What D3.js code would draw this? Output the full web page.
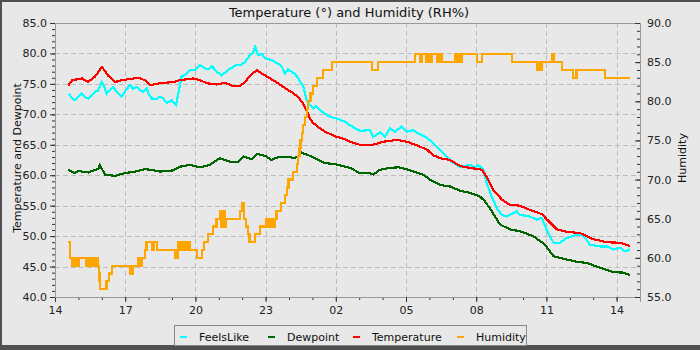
<!DOCTYPE html>
<html>
<head>
<meta charset="utf-8">
<script src="https://cdn.jsdelivr.net/npm/d3@7"></script>
<style>
  body { margin: 0; background: #e8e8e8; }
  text { font-family: "DejaVu Sans", sans-serif; }
</style>
</head>
<body>
<svg id="chart" width="700" height="350"></svg>
<script>
// Hour labels every 3 hours, starting at 14:00 and running 25 hours
const xTickLabels = ["14", "17", "20", "23", "02", "05", "08", "11", "14"];
const leftTicks = [40, 45, 50, 55, 60, 65, 70, 75, 80, 85];
const rightTicks = [55, 60, 65, 70, 75, 80, 85, 90];

const seriesNames = ["FeelsLike", "Dewpoint", "Temperature", "Humidity"];
const seriesColors = ["#00ffff", "#006400", "#ff0000", "#ffa500"];

// [hours after 14:00, degrees]
const feelsLike = [
  [0.60,73.4],[0.73,72.6],[0.85,72.3],[0.98,72.8],[1.14,73.4],[1.28,72.8],[1.41,72.6],[1.58,73.2],
  [1.71,73.7],[1.84,73.9],[2.00,75.3],[2.09,74.6],[2.21,73.4],[2.35,74.0],[2.48,74.5],[2.65,73.6],
  [2.85,72.9],[3.03,74.0],[3.21,74.8],[3.33,74.2],[3.49,74.5],[3.63,74.0],[3.76,73.7],[3.92,74.3],
  [4.02,73.2],[4.13,72.6],[4.35,72.5],[4.49,72.9],[4.62,72.6],[4.77,71.9],[4.99,72.3],[5.17,71.5],
  [5.27,73.4],[5.41,76.2],[5.60,76.6],[5.77,77.25],[5.98,77.3],[6.20,78.1],[6.37,77.6],[6.55,77.4],
  [6.71,77.9],[6.91,77.0],[7.12,76.4],[7.31,77.0],[7.48,77.5],[7.76,78.1],[7.95,78.1],[8.12,78.6],
  [8.33,79.7],[8.46,80.1],[8.55,81.1],[8.69,79.7],[8.85,79.9],[8.97,79.2],[9.26,78.9],[9.54,78.3],
  [9.70,77.8],[9.83,76.7],[9.96,77.4],[10.12,77.0],[10.26,76.6],[10.40,75.9],[10.61,74.5],[10.76,72.3],
  [10.90,71.5],[11.04,71.0],[11.15,71.4],[11.32,70.7],[11.68,69.7],[12.11,69.2],[12.39,68.8],[12.61,68.2],
  [12.82,67.7],[13.03,67.3],[13.46,67.4],[13.60,66.3],[13.80,66.8],[13.89,67.15],[14.10,66.3],[14.32,67.7],
  [14.53,67.15],[14.82,68.0],[15.03,67.15],[15.31,67.4],[15.60,66.7],[15.88,66.2],[16.17,65.25],[16.45,64.2],
  [16.74,63.1],[17.02,62.0],[17.31,61.4],[17.74,61.7],[17.95,61.3],[18.09,61.7],[18.30,60.9],[18.45,58.7],
  [18.66,56.5],[18.88,54.6],[19.09,53.5],[19.30,53.2],[19.59,53.8],[19.73,54.1],[19.87,53.5],[20.30,53.2],
  [20.59,52.7],[20.80,53.0],[21.01,51.1],[21.30,48.9],[21.58,48.9],[21.87,49.7],[22.29,50.2],[22.56,50.1],
  [22.65,49.7],[22.86,48.6],[23.29,48.3],[23.59,48.3],[23.86,47.8],[24.15,48.1],[24.36,47.5],[24.57,47.8]
];

const dewpoint = [
  [0.57,60.9],[0.73,60.5],[0.85,60.35],[0.98,60.7],[1.14,60.6],[1.42,60.45],[1.71,60.9],[1.84,61.0],
  [1.92,61.7],[2.01,61.0],[2.14,60.1],[2.56,59.9],[2.99,60.35],[3.42,60.6],[3.85,61.0],[4.06,60.9],
  [4.49,60.6],[5.06,60.8],[5.34,61.4],[5.77,61.7],[6.20,61.3],[6.62,61.7],[7.05,62.8],[7.48,62.2],
  [7.83,62.2],[8.05,63.1],[8.41,62.6],[8.62,63.5],[8.97,63.2],[9.26,62.5],[9.54,63.0],[9.97,63.0],
  [10.26,62.8],[10.54,63.7],[10.82,63.3],[11.11,62.8],[11.54,62.0],[11.97,61.8],[12.39,61.4],[12.61,61.2],
  [13.03,60.35],[13.46,60.35],[13.60,60.1],[13.89,60.9],[14.32,61.2],[14.67,61.3],[15.03,61.0],[15.46,60.45],
  [15.74,60.1],[16.03,59.25],[16.45,58.4],[16.88,58.15],[17.31,57.45],[17.74,57.1],[18.16,56.5],[18.38,55.7],
  [18.66,54.1],[19.02,51.9],[19.44,51.1],[19.87,50.8],[20.44,50.0],[20.94,48.6],[21.30,46.7],[21.87,46.15],
  [22.29,45.8],[22.72,45.6],[23.29,44.8],[23.86,44.1],[24.29,44.0],[24.57,43.6]
];

const temperature = [
  [0.56,74.7],[0.73,75.6],[1.15,75.9],[1.41,75.3],[1.71,76.2],[2.01,77.8],[2.26,76.4],[2.56,75.3],
  [2.86,75.6],[3.55,76.0],[3.85,75.6],[4.06,74.8],[4.49,75.1],[5.04,75.3],[5.34,75.6],[5.90,75.9],
  [6.20,75.6],[6.50,75.1],[6.92,74.9],[7.26,75.2],[7.56,74.7],[7.91,74.7],[8.12,75.3],[8.33,76.3],
  [8.62,77.25],[8.97,76.4],[9.53,75.1],[9.96,74.0],[10.17,73.5],[10.38,72.9],[10.60,71.8],[10.77,70.5],
  [10.90,69.3],[11.03,68.6],[11.32,67.7],[11.54,67.15],[11.97,66.4],[12.39,65.9],[12.61,65.5],[13.03,65.0],
  [13.59,65.0],[14.02,65.5],[14.62,65.8],[15.04,65.5],[15.47,64.9],[15.90,64.2],[16.15,63.3],[16.45,62.8],
  [16.88,62.5],[17.31,61.5],[17.74,61.2],[18.25,60.9],[18.46,59.6],[18.72,57.6],[19.10,56.0],[19.44,55.15],
  [19.87,55.0],[20.30,54.3],[20.81,53.6],[21.03,52.7],[21.45,51.1],[21.88,50.7],[22.44,50.5],[22.99,49.5],
  [23.59,49.0],[24.15,48.9],[24.57,48.4]
];

// [hours after 14:00, RH %]
const humidity = [
  [0.57,62],[0.64,60],[0.73,59],[0.79,60],[0.85,59],[0.92,60],[0.98,59],[1.03,60],[1.32,59],[1.37,60],
  [1.43,59],[1.47,60],[1.54,59],[1.58,60],[1.65,59],[1.71,60],[1.75,59],[1.79,60],[1.84,59],[1.88,58],
  [1.90,57],[1.92,56],[2.20,57],[2.31,58],[2.44,59],[3.21,58],[3.25,59],[3.29,58],[3.33,59],[3.55,60],
  [3.59,59],[3.63,60],[3.68,59],[3.72,60],[3.85,61],[3.91,62],[4.13,61],[4.23,62],[4.35,61],[5.15,60],
  [5.24,61],[5.28,62],[5.34,61],[5.41,62],[5.47,61],[5.53,62],[5.60,61],[5.66,62],[5.75,61],[6.06,60],
  [6.27,61],[6.37,62],[6.54,63],[6.75,64],[6.90,65],[7.05,66],[7.11,64],[7.18,66],[7.24,64],[7.31,65],
  [7.91,66],[7.99,67],[8.08,65],[8.16,64],[8.25,63],[8.31,62],[8.55,63],[8.76,64],[9.02,65],[9.09,64],
  [9.15,65],[9.21,64],[9.27,65],[9.34,64],[9.40,65],[9.47,66],[9.66,67],[9.83,68],[9.91,69],[9.98,70],
  [10.17,71],[10.33,72],[10.40,73],[10.45,74],[10.49,75],[10.54,76],[10.61,77],[10.68,78],[10.76,79],
  [10.82,80],[10.92,81],[11.04,82],[11.18,83],[11.45,84],[11.84,85],[13.53,84],[13.82,85],[15.38,86],
  [15.60,85],[15.68,86],[15.85,85],[15.94,86],[16.03,85],[16.10,86],[16.32,85],[16.37,86],[16.41,85],
  [16.45,86],[16.53,85],[17.09,86],[17.16,85],[17.22,86],[17.29,85],[17.38,86],[18.02,85],[18.24,86],
  [19.52,85],[20.59,84],[20.62,85],[20.66,84],[20.70,85],[20.75,84],[20.80,85],[21.23,86],[21.30,85],
  [21.65,84],[22.15,83],[22.29,84],[23.50,83],[24.57,83]
];

const W = 700, H = 350;
const m = { left: 55, right: 640, top: 23, bottom: 297 };
const svg = d3.select("#chart");

// frame
svg.append("rect").attr("width", W).attr("height", H).attr("fill", "#505050");
svg.append("rect").attr("x", 2).attr("y", 2).attr("width", W - 2).attr("height", 343).attr("fill", "#e8e8e8");

const x = d3.scaleLinear().domain([0, 25]).range([m.left, m.right]);
const yL = d3.scaleLinear().domain([40, 85]).range([m.bottom, m.top]);
const yR = d3.scaleLinear().domain([55, 90]).range([m.bottom, m.top]);

const xMajor = d3.range(0, 25, 3);
const xMinor = d3.range(0, 26, 1);

// grid
const grid = svg.append("g").attr("stroke", "#bdbdbd").attr("stroke-width", 1).attr("stroke-dasharray", "5,3");
grid.selectAll("line.v").data(xMajor.slice(1)).join("line")
  .attr("x1", d => Math.round(x(d)) + 0.5).attr("x2", d => Math.round(x(d)) + 0.5)
  .attr("y1", m.top).attr("y2", m.bottom);
grid.selectAll("line.h").data(leftTicks.slice(1, -1)).join("line")
  .attr("y1", d => Math.round(yL(d)) + 0.5).attr("y2", d => Math.round(yL(d)) + 0.5)
  .attr("x1", m.left).attr("x2", m.right);

// plot box
svg.append("rect").attr("x", m.left + 0.5).attr("y", m.top + 0.5)
  .attr("width", m.right - m.left).attr("height", m.bottom - m.top)
  .attr("fill", "none").attr("stroke", "#999");

function styleAxis(g) {
  g.select(".domain").attr("stroke", "#999");
  g.selectAll(".tick line").attr("stroke", "#333");
  g.selectAll(".tick text").attr("fill", "#222").attr("font-size", 11).attr("font-family", "DejaVu Sans");
}

// x axis
svg.append("g").attr("transform", `translate(0,${m.bottom})`)
  .call(d3.axisBottom(x).tickValues(xMinor).tickSize(3).tickFormat(""))
  .call(styleAxis);
svg.append("g").attr("transform", `translate(0,${m.bottom})`)
  .call(d3.axisBottom(x).tickValues(xMajor).tickSize(5).tickPadding(4)
    .tickFormat((d, i) => xTickLabels[i]))
  .call(styleAxis);

// left axis
svg.append("g").attr("transform", `translate(${m.left},0)`)
  .call(d3.axisLeft(yL).tickValues(d3.range(40, 86, 1)).tickSize(3).tickFormat(""))
  .call(styleAxis);
svg.append("g").attr("transform", `translate(${m.left},0)`)
  .call(d3.axisLeft(yL).tickValues(leftTicks).tickSize(5).tickPadding(3).tickFormat(d3.format(".1f")))
  .call(styleAxis);

// right axis (ticks point inward)
svg.append("g").attr("transform", `translate(${m.right},0)`)
  .call(d3.axisLeft(yR).tickValues(d3.range(55, 91, 1)).tickSize(3).tickFormat(""))
  .call(styleAxis);
const rAx = svg.append("g").attr("transform", `translate(${m.right},0)`)
  .call(d3.axisLeft(yR).tickValues(rightTicks).tickSize(5).tickFormat(d3.format(".1f")))
  .call(styleAxis);
rAx.selectAll(".tick text").attr("x", 7).attr("text-anchor", "start");

// series lines, drawn without antialiasing like a logger plot
const lineL = d3.line().x(d => x(d[0])).y(d => yL(d[1]));
const lineR = d3.line().x(d => x(d[0])).y(d => yR(d[1])).curve(d3.curveStepAfter);
const plot = svg.append("g").attr("fill", "none").attr("stroke-width", 2.2)
  .attr("stroke-linejoin", "miter").attr("shape-rendering", "crispEdges");
plot.append("path").datum(feelsLike).attr("d", lineL).attr("stroke", seriesColors[0]);
plot.append("path").datum(dewpoint).attr("d", lineL).attr("stroke", seriesColors[1]);
plot.append("path").datum(temperature).attr("d", lineL).attr("stroke", seriesColors[2]);
plot.append("path").datum(humidity).attr("d", lineR).attr("stroke", seriesColors[3]);

// titles
svg.append("text").attr("x", 349).attr("y", 17).attr("text-anchor", "middle")
  .attr("font-size", 13).attr("fill", "#111").text("Temperature (°) and Humidity (RH%)");
svg.append("text").attr("transform", "translate(21,158) rotate(-90)").attr("text-anchor", "middle")
  .attr("font-size", 11).attr("fill", "#111").text("Temperature and Dewpoint");
svg.append("text").attr("transform", "translate(686,158) rotate(-90)").attr("text-anchor", "middle")
  .attr("font-size", 11).attr("fill", "#111").text("Humidity");

// legend
const lg = svg.append("g");
lg.append("rect").attr("x", 174.5).attr("y", 325.5).attr("width", 352).attr("height", 20)
  .attr("fill", "#e8e8e8").attr("stroke", "#888");
const legendX = [180, 268, 353, 457];
seriesNames.forEach((name, i) => {
  lg.append("line").attr("x1", legendX[i]).attr("x2", legendX[i] + 7)
    .attr("y1", 337).attr("y2", 337).attr("stroke", seriesColors[i]).attr("stroke-width", 2);
  lg.append("text").attr("x", legendX[i] + 19).attr("y", 340.5)
    .attr("font-size", 11).attr("fill", "#111").text(name);
});
</script>
</body>
</html>
